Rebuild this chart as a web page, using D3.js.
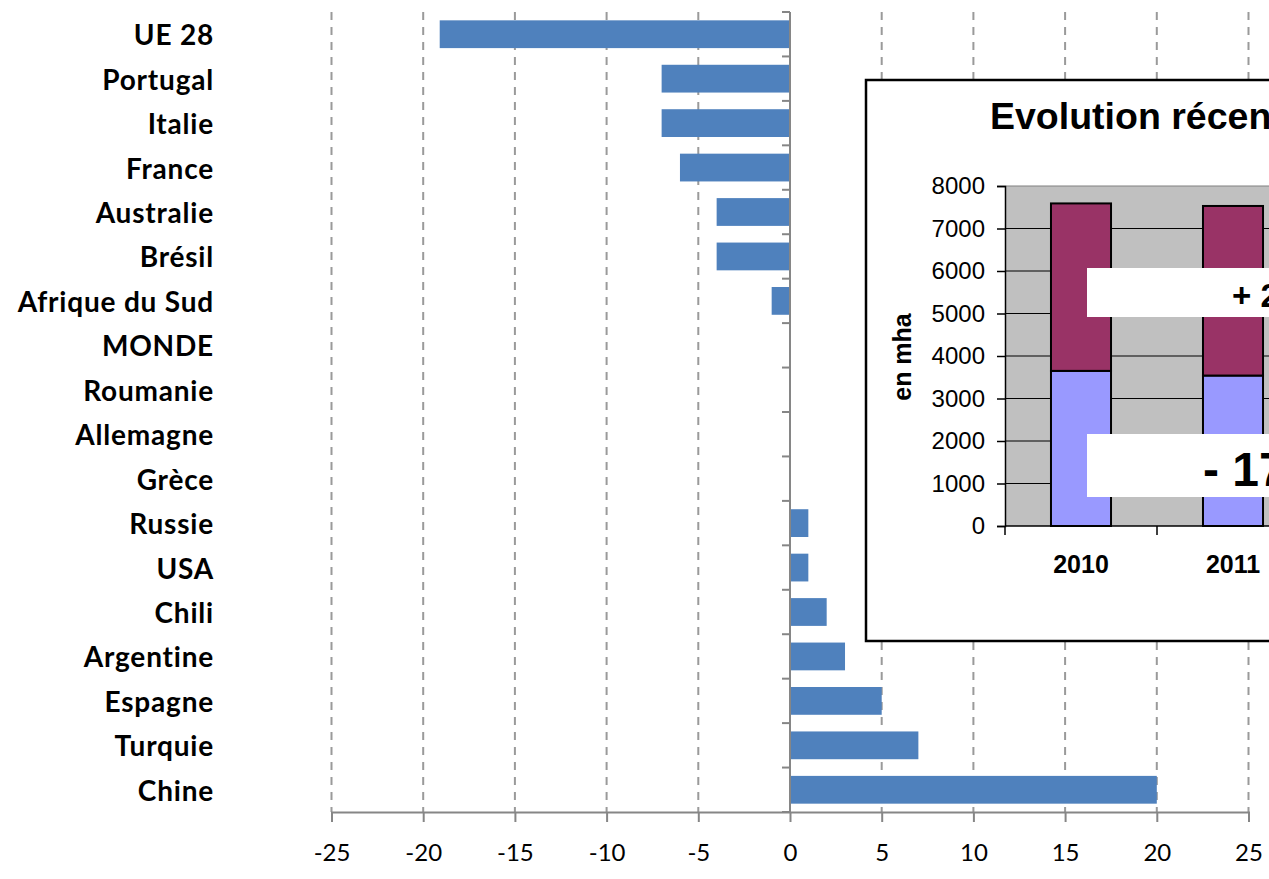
<!DOCTYPE html>
<html>
<head>
<meta charset="utf-8">
<script src="https://cdn.jsdelivr.net/npm/d3@7/dist/d3.min.js"></script>
<style>
  html, body { margin: 0; padding: 0; background: #ffffff; overflow: hidden; }
  svg { display: block; }
</style>
</head>
<body>
<svg id="chart" width="1269" height="879"></svg>
<script>
// Évolution des surfaces en vigne par pays (%)
const countries = ["UE 28", "Portugal", "Italie", "France", "Australie", "Brésil",
  "Afrique du Sud", "MONDE", "Roumanie", "Allemagne", "Grèce", "Russie", "USA",
  "Chili", "Argentine", "Espagne", "Turquie", "Chine"];
const changes = [-19.1, -7, -7, -6, -4, -4, -1, 0, 0, 0, 0, 1, 1, 2, 3, 5, 7, 20];
const xTicks = [-25, -20, -15, -10, -5, 0, 5, 10, 15, 20, 25];

// Encart : surfaces en mha, deux séries empilées
const insetTitle = "Evolution récente";
const insetYears = ["2010", "2011"];
const lowerSeries = [3650, 3540];
const upperSeries = [3940, 3990];
const insetTicks = [0, 1000, 2000, 3000, 4000, 5000, 6000, 7000, 8000];
const upperNote = "+ 2 %";
const lowerNote = "- 17 %";

const svg = d3.select("#chart");

// ---------- graphique principal ----------
const x = d3.scaleLinear().domain([-25, 25]).range([331.5, 1248.5]);
const y = d3.scaleBand().domain(countries).range([12, 812])
  .paddingInner(0.375).paddingOuter(0.1875);
const step = y.step();
const axisGray = "#868686";

const main = svg.append("g");

// lignes de grille verticales en tirets
main.append("g").selectAll("line")
  .data(xTicks.filter(d => d !== 0))
  .join("line")
  .attr("x1", d => x(d)).attr("x2", d => x(d))
  .attr("y1", 12).attr("y2", 812)
  .attr("stroke", "#9a9a9a").attr("stroke-width", 2)
  .attr("stroke-dasharray", "8,7");

// barres
main.append("g").selectAll("rect")
  .data(countries.map((c, i) => ({ c, v: changes[i] })))
  .join("rect")
  .attr("x", d => x(Math.min(0, d.v)))
  .attr("width", d => Math.abs(x(d.v) - x(0)))
  .attr("y", d => y(d.c))
  .attr("height", y.bandwidth())
  .attr("fill", "#4f81bd");

// axe horizontal
const xAxis = d3.axisBottom(x).tickValues(xTicks).tickSize(10).tickPadding(22)
  .tickFormat(d3.format("d"));
const gx = main.append("g").attr("transform", "translate(0,812)").call(xAxis);
gx.select(".domain").attr("stroke", axisGray).attr("stroke-width", 2);
gx.selectAll(".tick line").attr("stroke", axisGray).attr("stroke-width", 2);
gx.selectAll(".tick text")
  .attr("fill", "#000")
  .style("font-family", "Lato, 'Open Sans', sans-serif")
  .style("font-size", "24px")
  .text(d => d < 0 ? "-" + Math.abs(d) : d);

// axe vertical à zéro avec graduations entre catégories
main.append("line")
  .attr("x1", x(0)).attr("x2", x(0)).attr("y1", 12).attr("y2", 812)
  .attr("stroke", axisGray).attr("stroke-width", 2);
const boundaries = d3.range(countries.length + 1).map(i => 12 + i * step);
main.append("g").selectAll("line")
  .data(boundaries)
  .join("line")
  .attr("x1", x(0) - 8).attr("x2", x(0))
  .attr("y1", d => d).attr("y2", d => d)
  .attr("stroke", axisGray).attr("stroke-width", 2);

// libellés des pays
main.append("g").selectAll("text")
  .data(countries)
  .join("text")
  .attr("x", 214)
  .attr("y", d => y(d) + y.bandwidth() / 2)
  .attr("text-anchor", "end")
  .attr("dominant-baseline", "central")
  .style("font-family", "Lato, 'Open Sans', sans-serif")
  .style("font-weight", "bold")
  .style("font-size", "28px")
  .style("letter-spacing", "0.8px")
  .attr("fill", "#000")
  .text(d => d);

// ---------- encart ----------
const inset = svg.append("g");
const sans = "'Liberation Sans', Arial, sans-serif";

inset.append("rect")
  .attr("x", 866).attr("y", 80).attr("width", 800).attr("height", 561)
  .attr("fill", "#fff").attr("stroke", "#000").attr("stroke-width", 2.5);

inset.append("text")
  .attr("x", 990).attr("y", 129)
  .style("font-family", sans).style("font-weight", "bold").style("font-size", "37.5px")
  .attr("fill", "#000")
  .text(insetTitle);

const yi = d3.scaleLinear().domain([0, 8000]).range([526, 186]);
const xi = d3.scaleBand().domain(insetYears).range([1005, 1309])
  .paddingInner(0.605).paddingOuter(0.3025);

// fond gris de la zone de tracé
inset.append("rect")
  .attr("x", 1005).attr("y", yi(8000)).attr("width", 400).attr("height", yi(0) - yi(8000))
  .attr("fill", "#c0c0c0");

// grille horizontale
inset.append("g").selectAll("line")
  .data(insetTicks.filter(d => d > 0))
  .join("line")
  .attr("x1", 1005).attr("x2", 1405)
  .attr("y1", d => yi(d)).attr("y2", d => yi(d))
  .attr("stroke", d => d === 8000 ? "#808080" : "#000").attr("stroke-width", 1.2);

// barres empilées
const stacks = insetYears.map((yr, i) => ({ yr, lo: lowerSeries[i], hi: upperSeries[i] }));
inset.append("g").selectAll("rect.lo")
  .data(stacks).join("rect")
  .attr("x", d => xi(d.yr)).attr("width", xi.bandwidth())
  .attr("y", d => yi(d.lo)).attr("height", d => yi(0) - yi(d.lo))
  .attr("fill", "#9999ff").attr("stroke", "#000").attr("stroke-width", 2);
inset.append("g").selectAll("rect.hi")
  .data(stacks).join("rect")
  .attr("x", d => xi(d.yr)).attr("width", xi.bandwidth())
  .attr("y", d => yi(d.lo + d.hi)).attr("height", d => yi(d.lo) - yi(d.lo + d.hi))
  .attr("fill", "#993366").attr("stroke", "#000").attr("stroke-width", 2);

// axe vertical de l'encart
const yiAxis = d3.axisLeft(yi).tickValues(insetTicks).tickSize(8).tickPadding(12)
  .tickFormat(d3.format("d"));
const gyi = inset.append("g").attr("transform", "translate(1005,0)").call(yiAxis);
gyi.select(".domain").attr("stroke", "#000").attr("stroke-width", 1.5);
gyi.selectAll(".tick line").attr("stroke", "#000").attr("stroke-width", 1.5);
gyi.selectAll(".tick text").attr("fill", "#000")
  .style("font-family", sans).style("font-size", "24px");

// axe horizontal de l'encart
inset.append("line")
  .attr("x1", 1005).attr("x2", 1405).attr("y1", yi(0)).attr("y2", yi(0))
  .attr("stroke", "#000").attr("stroke-width", 1.5);
const catEdges = [1005].concat(insetYears.map(yr => xi(yr) + xi.bandwidth() + xi.step() * xi.paddingOuter()));
inset.append("g").selectAll("line")
  .data(catEdges).join("line")
  .attr("x1", d => d).attr("x2", d => d)
  .attr("y1", yi(0)).attr("y2", yi(0) + 9)
  .attr("stroke", "#000").attr("stroke-width", 1.5);
inset.append("g").selectAll("text")
  .data(insetYears).join("text")
  .attr("x", d => xi(d) + xi.bandwidth() / 2).attr("y", 573)
  .attr("text-anchor", "middle")
  .style("font-family", sans).style("font-weight", "bold").style("font-size", "25px")
  .attr("fill", "#000")
  .text(d => d);

inset.append("text")
  .attr("transform", "translate(911,357) rotate(-90)")
  .attr("text-anchor", "middle")
  .style("font-family", sans).style("font-weight", "bold").style("font-size", "25px")
  .attr("fill", "#000")
  .text("en mha");

// encadrés blancs de variation
inset.append("rect").attr("x", 1087).attr("y", 268).attr("width", 400).attr("height", 49)
  .attr("fill", "#fff");
inset.append("text").attr("x", 1232).attr("y", 307)
  .style("font-family", sans).style("font-weight", "bold").style("font-size", "33px")
  .attr("fill", "#000")
  .text(upperNote);
inset.append("rect").attr("x", 1087).attr("y", 434).attr("width", 400).attr("height", 63)
  .attr("fill", "#fff");
inset.append("text").attr("x", 1203).attr("y", 486)
  .style("font-family", sans).style("font-weight", "bold").style("font-size", "48px")
  .attr("fill", "#000")
  .text(lowerNote);
</script>
</body>
</html>
